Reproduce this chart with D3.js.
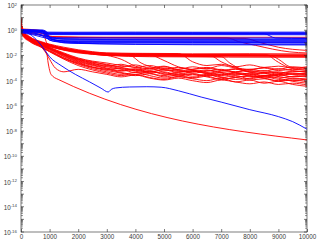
<!DOCTYPE html>
<html>
<head>
<meta charset="utf-8">
<script src="https://cdn.jsdelivr.net/npm/d3@7"></script>
<style>
body { margin: 0; background: #fff; }
.axis text { font-family: "Liberation Sans", Arial, sans-serif; fill: #3a3a3a; }
</style>
</head>
<body>
<script>
"use strict";

// iteration axis ticks and decade labels
var xTicks = [0, 1000, 2000, 3000, 4000, 5000, 6000, 7000, 8000, 9000, 10000];
var yTickExps = [2, 0, -2, -4, -6, -8, -10, -12, -14, -16];

// runs as [iteration, log10(value)]
var blueRuns = [
	[[0, 0], [700, -0.03], [850, -0.15], [1500, -0.16], [4000, -0.15], [6000, -0.16], [10000, -0.15]],
	[[0, -0.05], [780, -0.06], [950, -0.2], [2000, -0.21], [5000, -0.2], [8000, -0.21], [10000, -0.2]],
	[[0, -0.02], [600, -0.1], [900, -0.25], [3000, -0.24], [6000, -0.25], [10000, -0.26]],
	[[0, 0.05], [800, 0], [1000, -0.28], [4000, -0.28], [8500, -0.28], [8900, -0.62], [10000, -0.66]],
	[[0, -0.1], [500, -0.15], [1000, -0.3], [10000, -0.31]],
	[[0, -0.06], [700, -0.1], [1000, -0.35], [10000, -0.36]],
	[[0, 0], [750, -0.05], [1000, -0.55], [1500, -0.6], [10000, -0.62]],
	[[0, -0.08], [800, -0.1], [1100, -0.65], [3000, -0.7], [10000, -0.7]],
	[[0, -0.15], [300, -0.25], [900, -0.5], [1500, -0.72], [5000, -0.75], [10000, -0.76]],
	[[0, -0.05], [700, -0.2], [1200, -0.78], [10000, -0.8]],
	[[0, 0.02], [750, 0], [900, -0.6], [1500, -0.85], [6000, -0.86], [10000, -0.87]],
	[[0, -0.2], [400, -0.35], [1000, -0.7], [2000, -0.9], [10000, -0.92]],
	[[0, -0.1], [750, -0.15], [1100, -0.75], [2000, -0.95], [10000, -0.98]],
	[[0, -0.1], [600, -0.3], [1200, -0.9], [2500, -1.0], [10000, -1.02]],
	[[0, -0.12], [800, -0.4], [1500, -1.0], [4000, -1.1], [10000, -1.12]],
	[[0, -0.03], [780, -0.05], [1000, -0.8], [2000, -1.05], [6000, -1.15], [10000, -1.17]],
	[[0, 0], [300, -0.3], [600, -0.9], [900, -1.8], [1000, -2.1], [1400, -2.8], [1900, -3.5], [2400, -4.1],
	 [2800, -4.6], [3050, -4.9], [3150, -4.7], [3300, -4.58], [3800, -4.5], [4400, -4.48], [4900, -4.52],
	 [5500, -4.8], [6300, -5.3], [7000, -5.7], [8000, -6.3], [9000, -6.85], [9500, -7.25], [10000, -7.85]]
];

var redRuns = [
	[[0, 0.3], [100, -0.1], [600, -0.35], [1000, -0.5], [2000, -0.55], [10000, -0.56]],
	[[0, 0.5], [100, 0], [800, -0.3], [1100, -0.5], [3000, -0.58], [7200, -0.6], [7600, -0.9], [8200, -1.2],
	 [8800, -1.5], [9400, -1.72], [10000, -1.8]],
	[[0, 0.2], [100, -0.05], [850, -0.1], [1000, -0.6], [5000, -0.62], [7800, -0.65], [8400, -1.0],
	 [9000, -1.35], [10000, -1.6]],
	[[0, 1.0], [50, 0.1], [300, -0.5], [700, -0.9], [1000, -1.1], [1500, -1.35], [2000, -1.55], [2500, -1.7],
	 [3000, -1.8], [4000, -1.85], [6000, -1.87], [8000, -1.86], [10000, -1.88]],
	[[0, 0.7], [50, 0], [300, -0.6], [700, -1.0], [1000, -1.2], [1500, -1.45], [2000, -1.62], [3000, -1.85],
	 [4000, -1.92], [6000, -1.94], [10000, -1.95]],
	[[0, 0.4], [50, -0.1], [300, -0.55], [700, -0.95], [1000, -1.15], [1500, -1.5], [2500, -1.8],
	 [3500, -1.95], [5000, -2.0], [10000, -2.02]],
	[[0, 0.8], [50, -0.05], [300, -0.65], [700, -1.05], [1000, -1.25], [2000, -1.7], [3000, -1.95],
	 [4000, -2.05], [7000, -2.07], [10000, -2.08]],
	[[0, 0.3], [50, -0.2], [300, -0.7], [700, -1.1], [1000, -1.3], [2000, -1.75], [3000, -2.0],
	 [4500, -2.1], [10000, -2.15]],
	[[0, 0.1], [750, -0.05], [900, -1.0], [1100, -1.3], [2000, -1.72], [3000, -1.9], [5000, -1.97], [10000, -1.98]],
	[[0, 0.6], [50, 0], [300, -0.6], [700, -1.0], [1000, -1.2], [2000, -1.65], [3000, -1.88], [4000, -1.98],
	 [8000, -2.0], [10000, -2.05]],
	[[0, 0.5], [50, -0.1], [300, -0.6], [700, -1.0], [1000, -1.2], [2000, -1.68], [3000, -1.9], [8700, -2.0],
	 [9000, -2.3], [9400, -2.9], [10000, -3.1]],
	[[0, 0.45], [50, -0.05], [300, -0.6], [700, -1.0], [1000, -1.2], [2000, -1.66], [3000, -1.92], [8600, -1.95],
	 [8900, -2.4], [9300, -2.9], [9700, -3.1], [10000, -3.0]],
	// noisy group
	[[0, 0.9], [50, -0.2], [300, -0.7], [700, -1.1], [1000, -1.4], [1500, -1.9], [2000, -2.3], [2500, -2.55],
	 [3000, -2.7], [3500, -2.9], [4000, -2.75], [4500, -3.0], [5000, -2.85], [5500, -3.1], [6000, -2.9],
	 [6500, -3.05], [7000, -2.8], [7500, -3.0], [8000, -3.15], [8500, -2.95], [9000, -3.1], [9500, -2.9], [10000, -3.0]],
	[[0, 0.5], [50, -0.3], [300, -0.75], [700, -1.2], [1000, -1.5], [1500, -2.0], [2000, -2.45], [2500, -2.75],
	 [3000, -3.0], [3500, -3.2], [4000, -3.05], [4500, -3.3], [5000, -3.15], [5500, -3.35], [6000, -3.2],
	 [6500, -3.4], [7000, -3.25], [7500, -3.1], [8000, -3.3], [8500, -3.45], [9000, -3.3], [9500, -3.5], [10000, -3.4]],
	[[0, 0.3], [50, -0.25], [300, -0.8], [700, -1.25], [1000, -1.6], [1500, -2.2], [2000, -2.6], [2500, -2.95],
	 [3000, -3.2], [3500, -3.4], [4000, -3.6], [4500, -3.45], [5000, -3.7], [5500, -3.55], [6000, -3.8],
	 [6500, -3.65], [7000, -3.9], [7500, -3.75], [8000, -3.95], [8500, -3.85], [9000, -4.05], [9500, -3.95], [10000, -4.1]],
	[[0, 0.6], [50, -0.15], [300, -0.7], [700, -1.15], [1000, -1.45], [1500, -1.95], [2000, -2.4], [2500, -2.7],
	 [3000, -2.9], [3500, -3.1], [4000, -3.35], [4500, -3.2], [5000, -3.5], [5500, -3.3], [6000, -3.25],
	 [6500, -3.45], [7000, -3.6], [7500, -3.4], [8000, -3.55], [8500, -3.35], [9000, -3.5], [9500, -3.7], [10000, -3.6]],
	[[0, 0.4], [50, -0.3], [300, -0.85], [700, -1.3], [1000, -1.7], [1500, -2.3], [2000, -2.8], [2500, -3.15],
	 [3000, -3.4], [3500, -3.6], [4000, -3.5], [4500, -3.75], [5000, -3.9], [5500, -3.7], [6000, -3.85],
	 [6500, -4.0], [7000, -3.8], [7500, -4.1], [8000, -3.95], [8500, -4.2], [9000, -4.05], [9500, -4.3], [10000, -4.45]],
	[[0, 0.7], [50, -0.1], [300, -0.65], [700, -1.05], [1000, -1.35], [1500, -1.8], [2000, -2.2], [2500, -2.45],
	 [3000, -2.6], [3500, -2.8], [4000, -2.95], [4500, -3.15], [5000, -3.0], [5500, -3.2], [6000, -3.4],
	 [6500, -3.25], [7000, -3.1], [7500, -3.3], [8000, -3.2], [8500, -3.4], [9000, -3.6], [9500, -3.45], [10000, -3.55]],
	[[0, 0.2], [50, -0.35], [300, -0.8], [700, -1.2], [1000, -1.55], [1500, -2.1], [2000, -2.55], [2500, -2.9],
	 [3000, -3.1], [3500, -3.0], [4000, -3.25], [4500, -3.4], [5000, -3.3], [5500, -3.55], [6000, -3.45],
	 [6500, -3.6], [7000, -3.5], [7500, -3.7], [8000, -3.65], [8500, -3.8], [9000, -3.7], [9500, -3.85], [10000, -3.8]],
	[[0, 0.8], [50, -0.2], [300, -0.7], [700, -1.15], [1000, -1.45], [1500, -1.95], [2000, -2.35], [2500, -2.65],
	 [3000, -2.8], [3500, -3.05], [4000, -3.2], [4500, -3.0], [5000, -3.35], [5500, -3.5], [6000, -3.3],
	 [6500, -3.15], [7000, -3.35], [7500, -3.5], [8000, -3.4], [8500, -3.6], [9000, -3.45], [9500, -3.3], [10000, -3.25]],
	[[0, 0.1], [50, -0.4], [300, -0.9], [700, -1.35], [1000, -1.7], [1500, -2.25], [2000, -2.7], [2500, -3.05],
	 [3000, -3.3], [3500, -3.5], [4000, -3.35], [4500, -3.6], [5000, -3.8], [5500, -3.65], [6000, -3.5],
	 [6500, -3.7], [7000, -3.9], [7500, -3.75], [8000, -3.6], [8500, -3.8], [9000, -4.0], [9500, -3.85], [10000, -3.95]],
	[[0, 0.4], [50, -0.2], [300, -0.75], [700, -1.2], [1000, -1.5], [1500, -2.05], [2000, -2.5], [2500, -2.8],
	 [3000, -3.05], [3500, -3.25], [4000, -3.1], [4500, -3.4], [5000, -3.6], [5500, -3.4], [6000, -3.65],
	 [6500, -3.5], [7000, -3.75], [7500, -3.6], [8000, -3.85], [8500, -3.7], [9000, -3.9], [9500, -4.0], [10000, -3.9]],
	[[0, 0.65], [50, -0.1], [300, -0.65], [700, -1.1], [1000, -1.4], [1500, -1.9], [2000, -2.3], [2500, -2.6],
	 [3000, -2.85], [3500, -2.7], [4000, -2.95], [4500, -2.8], [5000, -3.05], [5500, -3.25], [6000, -3.1],
	 [6500, -2.95], [7000, -3.15], [7500, -3.3], [8000, -3.1], [8500, -3.25], [9000, -3.05], [9500, -3.2], [10000, -3.35]],
	[[0, 0.25], [50, -0.3], [300, -0.85], [700, -1.3], [1000, -1.65], [1500, -2.2], [2000, -2.65], [2500, -2.95],
	 [3000, -3.1], [3500, -3.35], [4000, -3.5], [4500, -3.3], [5000, -3.45], [5500, -3.65], [6000, -3.75],
	 [6500, -3.55], [7000, -3.7], [7500, -3.9], [8000, -3.8], [8500, -3.6], [9000, -3.8], [9500, -4.05], [10000, -4.2]],
	[[0, 0.55], [50, -0.15], [300, -0.7], [700, -1.1], [1000, -1.4], [1500, -1.85], [2000, -2.25], [2500, -2.5],
	 [3000, -2.75], [3500, -2.95], [4000, -3.15], [4500, -3.3], [5000, -3.1], [5500, -2.95], [6000, -3.15],
	 [6500, -3.35], [7000, -3.55], [7500, -3.35], [8000, -3.5], [8500, -3.7], [9000, -3.55], [9500, -3.4], [10000, -3.5]],
	[[0, 0.5], [50, -0.1], [300, -0.6], [700, -1.0], [1000, -1.2], [2000, -1.65], [3000, -1.93], [4500, -1.97],
	 [5000, -2.4], [5500, -2.9], [6000, -3.1], [6500, -3.0], [7000, -3.2], [7500, -3.05], [8000, -3.3],
	 [8500, -3.2], [9000, -3.4], [9500, -3.25], [10000, -3.3]],
	[[0, 0.6], [50, -0.05], [300, -0.6], [700, -1.0], [1000, -1.2], [2000, -1.7], [3000, -1.9], [6600, -2.0],
	 [7000, -2.5], [7500, -2.95], [8000, -3.1], [8500, -3.0], [9000, -3.2], [9500, -3.1], [10000, -3.2]],
	[[0, 0.35], [50, -0.15], [300, -0.65], [700, -1.05], [1000, -1.25], [2000, -1.72], [3000, -2.0],
	 [7000, -2.1], [7300, -2.6], [7800, -3.2], [8300, -3.4], [8800, -3.3], [9300, -3.5], [10000, -3.45]],
	[[0, 0.45], [50, -0.2], [300, -0.7], [700, -1.1], [1000, -1.3], [2000, -1.8], [3000, -2.0], [3500, -2.3],
	 [4000, -2.85], [4500, -3.05], [5000, -2.9], [5500, -3.15], [6000, -3.3], [6500, -3.2], [7000, -3.4],
	 [7500, -3.55], [8000, -3.45], [8500, -3.65], [9000, -3.5], [9500, -3.7], [10000, -3.6]],
	[[0, 0.75], [50, -0.05], [300, -0.6], [700, -1.0], [1000, -1.2], [2000, -1.68], [3000, -1.95], [3800, -2.0],
	 [4200, -2.6], [4700, -3.0], [5200, -3.2], [5700, -3.05], [6200, -3.3], [6700, -3.45], [7200, -3.3],
	 [7700, -3.5], [8200, -3.7], [8700, -3.55], [9200, -3.75], [9700, -3.6], [10000, -3.7]],
	[[0, 0.2], [50, -0.3], [300, -0.8], [700, -1.3], [900, -1.9], [1000, -2.3], [1200, -3.0], [1500, -3.3],
	 [2000, -3.1], [2500, -3.3], [3000, -3.5], [3500, -3.7], [4000, -3.55], [4500, -3.8], [5000, -3.95],
	 [5500, -3.8], [6000, -4.0], [6500, -4.15], [7000, -3.95], [7500, -4.1], [8000, -4.25], [8500, -4.1],
	 [9000, -4.3], [9500, -4.2], [10000, -4.35]],
	[[0, 0.55], [50, -0.05], [300, -0.55], [700, -0.95], [1000, -1.15], [2000, -1.6], [3000, -1.82],
	 [5500, -1.85], [6000, -2.5], [6500, -2.8], [7000, -2.7], [7500, -2.9], [8000, -2.75], [8500, -2.95],
	 [9000, -2.85], [9500, -3.0], [10000, -2.9]],
	// steady decline run
	[[0, 0.5], [50, -0.1], [300, -0.6], [700, -1.3], [900, -1.85], [950, -2.6], [1050, -3.5], [1300, -3.9], [10000, -8.7]]
];

var width = 318, height = 245;
var plotLeft = 21, plotRight = 307, plotTop = 5, plotBottom = 232;

var svg = d3.select("body").append("svg")
	.attr("width", width)
	.attr("height", height);

var x = d3.scaleLinear().domain([0, 10000]).range([plotLeft, plotRight]);
var y = d3.scaleLog().domain([1e-16, 1e2]).range([plotBottom, plotTop]);

svg.append("clipPath").attr("id", "plotClip")
	.append("rect")
	.attr("x", plotLeft).attr("y", plotTop)
	.attr("width", plotRight - plotLeft).attr("height", plotBottom - plotTop);

var line = d3.line()
	.x(function (d) { return x(d[0]); })
	.y(function (d) { return y(Math.pow(10, d[1])); })
	.curve(d3.curveMonotoneX);

var lines = svg.append("g").attr("clip-path", "url(#plotClip)");

lines.selectAll(".red").data(redRuns).enter()
	.append("path")
	.attr("class", "red")
	.attr("d", line)
	.attr("fill", "none")
	.attr("stroke", "#ff0000")
	.attr("stroke-width", 0.9);

lines.selectAll(".blue").data(blueRuns).enter()
	.append("path")
	.attr("class", "blue")
	.attr("d", line)
	.attr("fill", "none")
	.attr("stroke", "#0000ff")
	.attr("stroke-width", 0.9);

// minor ticks on the log axis
var minorVals = [];
for (var e = -16; e < 2; e++) {
	for (var k = 2; k <= 9; k++) minorVals.push(k * Math.pow(10, e));
}
var majorVals = [];
for (var e2 = -16; e2 <= 2; e2++) majorVals.push(Math.pow(10, e2));

var axisColor = "#262626";

function styleAxis(g) {
	g.select(".domain").remove();
	g.selectAll(".tick line").attr("stroke", axisColor).attr("stroke-width", 0.6);
}

svg.append("g").attr("class", "axis")
	.attr("transform", "translate(0," + plotBottom + ")")
	.call(d3.axisBottom(x).tickValues(xTicks).tickSizeInner(-3).tickSizeOuter(0).tickPadding(3)
		.tickFormat(d3.format("d")))
	.call(styleAxis)
	.selectAll("text").style("font-size", "6.3px");

svg.append("g").attr("class", "axis")
	.attr("transform", "translate(0," + plotTop + ")")
	.call(d3.axisTop(x).tickValues(xTicks).tickSizeInner(-3).tickSizeOuter(0).tickFormat(""))
	.call(styleAxis);

[["left", plotLeft, 1], ["right", plotRight, -1]].forEach(function (side) {
	var gMinor = svg.append("g").attr("class", "axis")
		.attr("transform", "translate(" + side[1] + ",0)");
	gMinor.selectAll("line").data(minorVals).enter().append("line")
		.attr("x1", 0).attr("x2", 2 * side[2])
		.attr("y1", function (d) { return y(d); })
		.attr("y2", function (d) { return y(d); })
		.attr("stroke", axisColor).attr("stroke-width", 0.5);
	gMinor.selectAll("line.major").data(majorVals).enter().append("line")
		.attr("class", "major")
		.attr("x1", 0).attr("x2", 3 * side[2])
		.attr("y1", function (d) { return y(d); })
		.attr("y2", function (d) { return y(d); })
		.attr("stroke", axisColor).attr("stroke-width", 0.6);
});

// decade labels
var yLabels = svg.append("g").attr("class", "axis");
var lab = yLabels.selectAll("text").data(yTickExps).enter()
	.append("text")
	.attr("text-anchor", "end")
	.attr("x", 17)
	.attr("y", function (d) { return y(Math.pow(10, d)) + 3; })
	.style("font-size", "6.3px");
lab.append("tspan").text("10");
lab.append("tspan")
	.attr("dy", "-0.55em")
	.style("font-size", "4.4px")
	.text(function (d) { return d; });

// box
svg.append("rect")
	.attr("x", plotLeft).attr("y", plotTop)
	.attr("width", plotRight - plotLeft).attr("height", plotBottom - plotTop)
	.attr("fill", "none")
	.attr("stroke", axisColor)
	.attr("stroke-width", 0.6);
</script>
</body>
</html>
